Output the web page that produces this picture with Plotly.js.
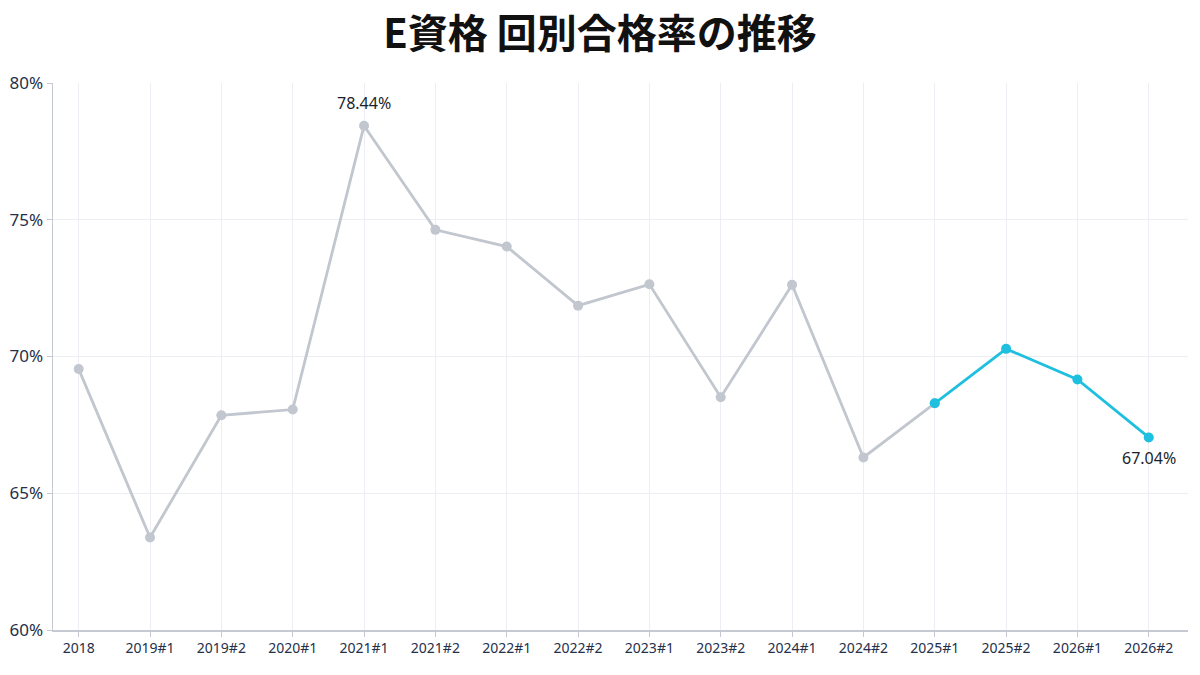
<!DOCTYPE html>
<html>
<head>
<meta charset="utf-8">
<script src="https://cdn.plot.ly/plotly-3.0.1.min.js"></script>
<style>
  html, body { margin: 0; padding: 0; background: #ffffff; }
  #chart { width: 1200px; height: 675px; }
</style>
</head>
<body>
<div id="chart"></div>
<script>
'use strict'

// 試験回ごとの合格率 (%)
const rounds = ['2018', '2019#1', '2019#2', '2020#1', '2021#1', '2021#2', '2022#1', '2022#2',
                '2023#1', '2023#2', '2024#1', '2024#2', '2025#1', '2025#2', '2026#1', '2026#2'];
const passRates = [69.54, 63.38, 67.85, 68.06, 78.44, 74.63, 74.02, 71.86,
                   72.64, 68.51, 72.62, 66.31, 68.29, 70.28, 69.16, 67.04];
const yTicks = [60, 65, 70, 75, 80];

// 2025#1 以降を強調表示
const splitAt = rounds.indexOf('2025#1');
// ラベルを付ける回 (最高値と最新回)
const peakIdx = passRates.indexOf(Math.max(...passRates));
const lastIdx = rounds.length - 1;

const grey = '#c1c6cf';
const teal = '#1fbfe0';

let past = {
    x: rounds.slice(0, splitAt + 1),
    y: passRates.slice(0, splitAt + 1),
    mode: 'lines+markers',
    line: { color: grey, width: 2.8 },
    marker: { color: grey, size: 10 },
    cliponaxis: false,
    type: 'scatter'
}

let recent = {
    x: rounds.slice(splitAt),
    y: passRates.slice(splitAt),
    mode: 'lines+markers',
    line: { color: teal, width: 2.8 },
    marker: { color: teal, size: 10 },
    cliponaxis: false,
    type: 'scatter'
}

let label = function(i, shift) {
    return {
        x: rounds[i],
        y: passRates[i],
        text: passRates[i].toFixed(2) + '%',
        showarrow: false,
        yshift: shift,
        yanchor: 'middle',
        font: { size: 16, color: '#1b1f2a' }
    }
}

const layout = {
    width: 1200,
    height: 675,
    showlegend: false,
    margin: { l: 53, r: 12, t: 83, b: 45 },
    title: {
        text: '<b>E資格 回別合格率の推移</b>',
        font: { family: '"Noto Sans CJK JP", "Noto Sans", sans-serif', size: 40, color: '#111111' },
        x: 0.5,
        xanchor: 'center',
        y: 0.949,
        yanchor: 'middle'
    },
    font: { family: '"Noto Sans", "Noto Sans CJK JP", sans-serif', color: '#25304a' },
    annotations: [label(peakIdx, 23), label(lastIdx, -21)],
    xaxis: {
        type: 'category',
        range: [-0.36, 15.55],
        fixedrange: true,
        showgrid: true,
        gridcolor: '#eceef3',
        showline: true,
        linecolor: '#c4c9d2',
        linewidth: 1.5,
        ticks: 'outside',
        ticklen: 5,
        tickcolor: '#c4c9d2',
        tickfont: { size: 14, color: '#25304a' },
        zeroline: false
    },
    yaxis: {
        range: [60, 80],
        tickvals: yTicks,
        ticktext: yTicks.map(v => v + '%'),
        fixedrange: true,
        showgrid: true,
        gridcolor: '#eceef3',
        showline: true,
        linecolor: '#c4c9d2',
        linewidth: 1.5,
        ticks: 'outside',
        ticklen: 5,
        tickcolor: '#c4c9d2',
        tickfont: { size: 17, color: '#25304a' },
        zeroline: false
    },
    paper_bgcolor: '#ffffff',
    plot_bgcolor: '#ffffff'
}

Plotly.newPlot('chart', [past, recent], layout, { displayModeBar: false, staticPlot: true });
</script>
</body>
</html>
